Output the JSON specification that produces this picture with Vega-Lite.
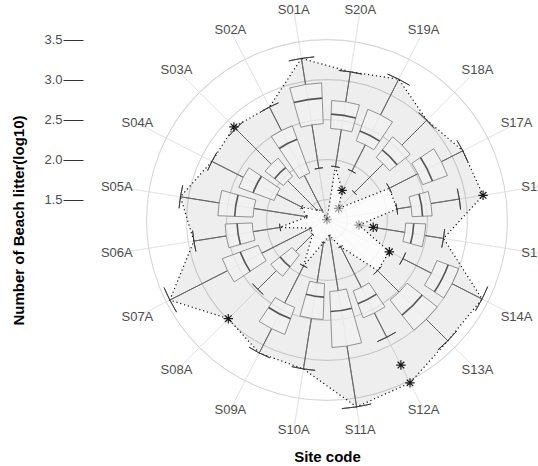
{
  "$schema": "https://vega.github.io/schema/vega-lite/v6.json",
  "width": 422,
  "height": 440,
  "autosize": {"type": "none"},
  "padding": {"left": 116, "top": 0, "right": 0, "bottom": 26},
  "background": "white",
  "config": {"view": {"stroke": null}, "font": "Liberation Sans"},
  "datasets": {
    "sites": [
      {"site": "S01A", "i": 1, "lw": 1.90, "q1": 2.45, "med": 2.77, "q3": 2.96, "uw": 3.29, "lo": 1.25, "hi": 3.29},
      {"site": "S02A", "i": 2, "lw": 1.38, "q1": 1.87, "med": 2.32, "q3": 2.50, "uw": 2.83, "lo": 1.38, "hi": 2.83},
      {"site": "S03A", "i": 3, "lw": 1.42, "q1": 1.94, "med": 2.08, "q3": 2.23, "uw": 2.86, "lo": 1.42, "hi": 2.89},
      {"site": "S04A", "i": 4, "lw": 1.60, "q1": 1.95, "med": 2.23, "q3": 2.42, "uw": 2.86, "lo": 1.60, "hi": 2.86},
      {"site": "S05A", "i": 5, "lw": 1.50, "q1": 2.17, "med": 2.40, "q3": 2.61, "uw": 3.10, "lo": 1.50, "hi": 3.10},
      {"site": "S06A", "i": 6, "lw": 1.84, "q1": 2.18, "med": 2.37, "q3": 2.52, "uw": 2.93, "lo": 1.84, "hi": 2.93},
      {"site": "S07A", "i": 7, "lw": 1.47, "q1": 2.16, "med": 2.40, "q3": 2.64, "uw": 3.45, "lo": 1.47, "hi": 3.45},
      {"site": "S08A", "i": 8, "lw": 1.50, "q1": 1.80, "med": 1.99, "q3": 2.14, "uw": 2.47, "lo": 1.50, "hi": 2.99},
      {"site": "S09A", "i": 9, "lw": 1.89, "q1": 2.41, "med": 2.56, "q3": 2.77, "uw": 3.11, "lo": 1.89, "hi": 3.11},
      {"site": "S10A", "i": 10, "lw": 1.53, "q1": 2.04, "med": 2.21, "q3": 2.49, "uw": 3.13, "lo": 1.53, "hi": 3.13},
      {"site": "S11A", "i": 11, "lw": 1.44, "q1": 2.14, "med": 2.39, "q3": 2.84, "uw": 3.61, "lo": 1.44, "hi": 3.61},
      {"site": "S12A", "i": 12, "lw": 1.62, "q1": 2.19, "med": 2.36, "q3": 2.55, "uw": 2.89, "lo": 1.62, "hi": 3.53},
      {"site": "S13A", "i": 13, "lw": 2.14, "q1": 2.52, "med": 2.76, "q3": 3.00, "uw": 3.38, "lo": 2.14, "hi": 3.38},
      {"site": "S14A", "i": 14, "lw": 2.31, "q1": 2.71, "med": 2.86, "q3": 3.00, "uw": 3.42, "lo": 2.12, "hi": 3.42},
      {"site": "S15A", "i": 15, "lw": 1.88, "q1": 2.23, "med": 2.33, "q3": 2.48, "uw": 2.72, "lo": 1.65, "hi": 2.72},
      {"site": "S16A", "i": 16, "lw": 2.13, "q1": 2.31, "med": 2.44, "q3": 2.56, "uw": 2.92, "lo": 2.13, "hi": 3.22},
      {"site": "S17A", "i": 17, "lw": 2.12, "q1": 2.52, "med": 2.65, "q3": 2.85, "uw": 3.15, "lo": 2.12, "hi": 3.15},
      {"site": "S18A", "i": 18, "lw": 1.73, "q1": 2.24, "med": 2.36, "q3": 2.57, "uw": 3.01, "lo": 1.45, "hi": 3.01},
      {"site": "S19A", "i": 19, "lw": 1.93, "q1": 2.30, "med": 2.43, "q3": 2.72, "uw": 3.22, "lo": 1.66, "hi": 3.22},
      {"site": "S20A", "i": 20, "lw": 1.92, "q1": 2.39, "med": 2.57, "q3": 2.74, "uw": 3.12, "lo": 1.92, "hi": 3.12}
    ],
    "outliers": [
      {"site": "S01A", "i": 1, "v": 1.25, "n": 1},
      {"site": "S03A", "i": 3, "v": 2.89, "n": 2},
      {"site": "S08A", "i": 8, "v": 2.99, "n": 2},
      {"site": "S12A", "i": 12, "v": 3.28, "n": 2},
      {"site": "S12A", "i": 12, "v": 3.53, "n": 2},
      {"site": "S14A", "i": 14, "v": 2.12, "n": 2},
      {"site": "S15A", "i": 15, "v": 1.83, "n": 2},
      {"site": "S15A", "i": 15, "v": 1.65, "n": 1},
      {"site": "S16A", "i": 16, "v": 3.22, "n": 2},
      {"site": "S18A", "i": 18, "v": 1.45, "n": 1},
      {"site": "S19A", "i": 19, "v": 1.66, "n": 2}
    ],
    "breaks": [{"b": 1.5}, {"b": 2.0}, {"b": 2.5}, {"b": 3.0}, {"b": 3.5}]
  },
  "layer": [
    {
      "data": {"name": "sites"},
      "mark": {"type": "arc", "filled": false, "stroke": "#e4e4e4", "strokeWidth": 0.8},
      "encoding": {
        "theta": {"field": "i", "type": "quantitative", "stack": null, "scale": {"domain": [0.5, 20.5], "range": [6.283185307179586, 0]}},
        "theta2": {"field": "i"},
        "radius": {"datum": 3.905, "type": "quantitative", "scale": {"type": "linear", "zero": false, "domain": [1.245, 3.745], "range": [0, 200]}},
        "radius2": {"datum": 1.245}
      }
    },
    {
      "data": {"name": "breaks"},
      "mark": {"type": "arc", "filled": false, "stroke": "#d6d6d6", "strokeWidth": 1.1},
      "encoding": {
        "theta": {"value": 0},
        "theta2": {"value": 6.2832},
        "radius": {"field": "b", "type": "quantitative", "scale": {"type": "linear", "zero": false, "domain": [1.245, 3.745], "range": [0, 200]}},
        "radius2": {"field": "b"}
      }
    },
    {
      "data": {"name": "sites"},
      "transform": [
        {"calculate": "-(datum.hi - 1.245) * sin((datum.i - 0.5) * PI / 10)", "as": "px"},
        {"calculate": "1.245 + (datum.hi - 1.245) * cos((datum.i - 0.5) * PI / 10)", "as": "py"}
      ],
      "mark": {"type": "line", "interpolate": "linear-closed", "fill": "#000000", "fillOpacity": 0.065, "stroke": "#111111", "strokeWidth": 1.2, "strokeDash": [1.2, 2.8]},
      "encoding": {
        "x": {"field": "px", "type": "quantitative", "scale": {"domain": [-2.6375, 2.6375], "nice": false, "zero": false},
          "axis": {"title": "Site code", "labels": false, "ticks": false, "domain": false, "grid": false, "titleFont": "Liberation Sans", "titleFontSize": 15, "titleFontWeight": "bold", "titleColor": "#000000", "titleBaseline": "middle", "titleY": 16}},
        "y": {"field": "py", "type": "quantitative", "scale": {"domain": [-1.505, 3.995], "nice": false, "zero": false},
          "axis": {"title": "Number of Beach litter(log10)", "values": [1.5, 2, 2.5, 3, 3.5], "format": ".1f", "offset": 33, "domain": false, "grid": false, "tickSize": 20, "tickColor": "#333333", "tickWidth": 1, "labelColor": "#4d4d4d", "labelFont": "Liberation Sans", "labelFontSize": 13, "labelPadding": 1, "titleFont": "Liberation Sans", "titleFontSize": 15, "titleFontWeight": "bold", "titleColor": "#000000", "titleBaseline": "middle", "titleX": -65, "titleY": 220}},
        "order": {"field": "i"}
      }
    },
    {
      "data": {"name": "sites"},
      "transform": [
        {"calculate": "-(datum.lo - 1.245) * sin((datum.i - 0.5) * PI / 10)", "as": "px"},
        {"calculate": "1.245 + (datum.lo - 1.245) * cos((datum.i - 0.5) * PI / 10)", "as": "py"}
      ],
      "mark": {"type": "line", "interpolate": "linear-closed", "fill": "#ffffff", "fillOpacity": 0.8, "stroke": "#111111", "strokeWidth": 1.2, "strokeDash": [1.2, 2.8]},
      "encoding": {
        "x": {"field": "px", "type": "quantitative", "scale": {"domain": [-2.6375, 2.6375], "nice": false, "zero": false},
          "axis": {"title": "Site code", "labels": false, "ticks": false, "domain": false, "grid": false, "titleFont": "Liberation Sans", "titleFontSize": 15, "titleFontWeight": "bold", "titleColor": "#000000", "titleBaseline": "middle", "titleY": 16}},
        "y": {"field": "py", "type": "quantitative", "scale": {"domain": [-1.505, 3.995], "nice": false, "zero": false},
          "axis": {"title": "Number of Beach litter(log10)", "values": [1.5, 2, 2.5, 3, 3.5], "format": ".1f", "offset": 33, "domain": false, "grid": false, "tickSize": 20, "tickColor": "#333333", "tickWidth": 1, "labelColor": "#4d4d4d", "labelFont": "Liberation Sans", "labelFontSize": 13, "labelPadding": 1, "titleFont": "Liberation Sans", "titleFontSize": 15, "titleFontWeight": "bold", "titleColor": "#000000", "titleBaseline": "middle", "titleX": -65, "titleY": 220}},
        "order": {"field": "i"}
      }
    },
    {
      "data": {"name": "sites"},
      "mark": {"type": "arc", "filled": false, "stroke": "#5f5f5f", "strokeWidth": 0.8},
      "encoding": {
        "theta": {"field": "i", "type": "quantitative", "stack": null, "scale": {"domain": [0.5, 20.5], "range": [6.283185307179586, 0]}},
        "theta2": {"field": "i"},
        "radius": {"field": "uw", "type": "quantitative", "scale": {"type": "linear", "zero": false, "domain": [1.245, 3.745], "range": [0, 200]}},
        "radius2": {"field": "q3"}
      }
    },
    {
      "data": {"name": "sites"},
      "mark": {"type": "arc", "filled": false, "stroke": "#5f5f5f", "strokeWidth": 0.8},
      "encoding": {
        "theta": {"field": "i", "type": "quantitative", "stack": null, "scale": {"domain": [0.5, 20.5], "range": [6.283185307179586, 0]}},
        "theta2": {"field": "i"},
        "radius": {"field": "q1", "type": "quantitative", "scale": {"type": "linear", "zero": false, "domain": [1.245, 3.745], "range": [0, 200]}},
        "radius2": {"field": "lw"}
      }
    },
    {
      "data": {"name": "sites"},
      "mark": {"type": "arc", "filled": false, "stroke": "#333333", "strokeWidth": 0.8, "thetaOffset": -0.0785, "theta2Offset": 0.0785},
      "encoding": {
        "theta": {"field": "i", "type": "quantitative", "stack": null, "scale": {"domain": [0.5, 20.5], "range": [6.283185307179586, 0]}},
        "theta2": {"field": "i"},
        "radius": {"field": "uw", "type": "quantitative", "scale": {"type": "linear", "zero": false, "domain": [1.245, 3.745], "range": [0, 200]}},
        "radius2": {"field": "uw"}
      }
    },
    {
      "data": {"name": "sites"},
      "mark": {"type": "arc", "filled": false, "stroke": "#333333", "strokeWidth": 0.8, "thetaOffset": -0.0785, "theta2Offset": 0.0785},
      "encoding": {
        "theta": {"field": "i", "type": "quantitative", "stack": null, "scale": {"domain": [0.5, 20.5], "range": [6.283185307179586, 0]}},
        "theta2": {"field": "i"},
        "radius": {"field": "lw", "type": "quantitative", "scale": {"type": "linear", "zero": false, "domain": [1.245, 3.745], "range": [0, 200]}},
        "radius2": {"field": "lw"}
      }
    },
    {
      "data": {"name": "sites"},
      "mark": {"type": "arc", "fill": "#f2f2f2", "fillOpacity": 0.7, "stroke": "#7a7a7a", "strokeWidth": 0.8, "thetaOffset": -0.1178, "theta2Offset": 0.1178},
      "encoding": {
        "theta": {"field": "i", "type": "quantitative", "stack": null, "scale": {"domain": [0.5, 20.5], "range": [6.283185307179586, 0]}},
        "theta2": {"field": "i"},
        "radius": {"field": "q3", "type": "quantitative", "scale": {"type": "linear", "zero": false, "domain": [1.245, 3.745], "range": [0, 200]}},
        "radius2": {"field": "q1"}
      }
    },
    {
      "data": {"name": "sites"},
      "mark": {"type": "arc", "filled": false, "stroke": "#555555", "strokeWidth": 1.6, "thetaOffset": -0.1178, "theta2Offset": 0.1178},
      "encoding": {
        "theta": {"field": "i", "type": "quantitative", "stack": null, "scale": {"domain": [0.5, 20.5], "range": [6.283185307179586, 0]}},
        "theta2": {"field": "i"},
        "radius": {"field": "med", "type": "quantitative", "scale": {"type": "linear", "zero": false, "domain": [1.245, 3.745], "range": [0, 200]}},
        "radius2": {"field": "med"}
      }
    },
    {
      "data": {"name": "outliers"},
      "transform": [
        {"calculate": "-(datum.v - 1.245) * sin((datum.i - 0.5) * PI / 10)", "as": "px"},
        {"calculate": "1.245 + (datum.v - 1.245) * cos((datum.i - 0.5) * PI / 10)", "as": "py"}
      ],
      "mark": {"type": "point", "shape": "M-1,0L1,0M0,-1L0,1M-0.7,-0.7L0.7,0.7M-0.7,0.7L0.7,-0.7", "filled": false, "stroke": "#111111", "strokeWidth": 1.2, "size": 90},
      "encoding": {
        "x": {"field": "px", "type": "quantitative", "scale": {"domain": [-2.6375, 2.6375], "nice": false, "zero": false},
          "axis": {"title": "Site code", "labels": false, "ticks": false, "domain": false, "grid": false, "titleFont": "Liberation Sans", "titleFontSize": 15, "titleFontWeight": "bold", "titleColor": "#000000", "titleBaseline": "middle", "titleY": 16}},
        "y": {"field": "py", "type": "quantitative", "scale": {"domain": [-1.505, 3.995], "nice": false, "zero": false},
          "axis": {"title": "Number of Beach litter(log10)", "values": [1.5, 2, 2.5, 3, 3.5], "format": ".1f", "offset": 33, "domain": false, "grid": false, "tickSize": 20, "tickColor": "#333333", "tickWidth": 1, "labelColor": "#4d4d4d", "labelFont": "Liberation Sans", "labelFontSize": 13, "labelPadding": 1, "titleFont": "Liberation Sans", "titleFontSize": 15, "titleFontWeight": "bold", "titleColor": "#000000", "titleBaseline": "middle", "titleX": -65, "titleY": 220}},
        "opacity": {"field": "n", "type": "quantitative", "scale": {"domain": [1, 2], "range": [0.4, 0.95]}, "legend": null}
      }
    },
    {
      "data": {"name": "sites"},
      "mark": {"type": "text", "font": "Liberation Sans", "fontSize": 13, "color": "#4d4d4d", "align": "center", "baseline": "middle"},
      "encoding": {
        "theta": {"field": "i", "type": "quantitative", "stack": null, "scale": {"domain": [0.5, 20.5], "range": [6.283185307179586, 0]}},
        "radius": {"datum": 3.905, "type": "quantitative", "scale": {"type": "linear", "zero": false, "domain": [1.245, 3.745], "range": [0, 200]}},
        "text": {"field": "site"}
      }
    }
  ]
}
